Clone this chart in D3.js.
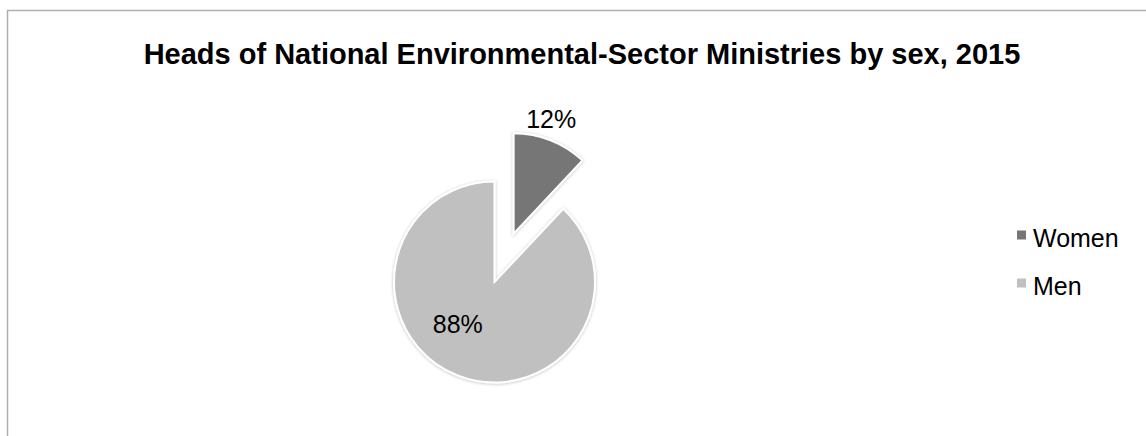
<!DOCTYPE html>
<html>
<head>
<meta charset="utf-8">
<script src="https://cdn.jsdelivr.net/npm/d3@7"></script>
<style>
  html, body { margin: 0; padding: 0; background: #fff; }
  svg { display: block; font-family: "Liberation Sans", Arial, Helvetica, sans-serif; }
</style>
</head>
<body>
<svg id="chart" width="1146" height="436"></svg>
<script>
// Heads of national environmental-sector ministries by sex, 2015
const categories = ["Women", "Men"];
const shares = [12, 88];
const sliceColors = ["#767676", "#c0c0c0"];
const titleText = "Heads of National Environmental-Sector Ministries by sex, 2015";

const W = 1146, H = 436;
const svg = d3.select("#chart");

// soft shadow under the slices
const defs = svg.append("defs");
const f = defs.append("filter").attr("id", "shadow")
  .attr("x", "-20%").attr("y", "-20%").attr("width", "140%").attr("height", "140%");
f.append("feDropShadow").attr("dx", 0).attr("dy", 0.5)
  .attr("stdDeviation", 1.6).attr("flood-color", "#000").attr("flood-opacity", 0.28);

// chart frame (only the top and left edges fall inside the view)
svg.append("rect")
  .attr("x", 7.5).attr("y", 10.5)
  .attr("width", W + 40).attr("height", H + 40)
  .attr("fill", "none").attr("stroke", "#b0b0b0").attr("stroke-width", 1.5);

// title
svg.append("text")
  .attr("x", 582).attr("y", 64)
  .attr("text-anchor", "middle")
  .attr("font-size", 29).attr("font-weight", "bold").attr("fill", "#000")
  .text(titleText);

// pie
const cx = 494.5, cy = 282, radius = 100.5, explode = 52;
const pie = d3.pie().sort(null).value(d => d);
const arcs = pie(shares);
const arc = d3.arc().innerRadius(0).outerRadius(radius);

const colorScale = d3.scaleOrdinal().domain(categories).range(sliceColors);

// the first slice is pulled out along its bisector
const explodeBy = [explode, 0];
// label placement around each slice's own centre: radius and angle nudge (degrees)
const labelPlace = [{ r: 121, nudge: -3.5 }, { r: 56, nudge: 19.4 }];

const g = svg.append("g").attr("transform", `translate(${cx},${cy})`);

const slices = g.selectAll("g.slice").data(arcs).join("g")
  .attr("class", "slice")
  .attr("transform", (d, i) => {
    const a = (d.startAngle + d.endAngle) / 2;
    const e = explodeBy[i];
    return `translate(${e * Math.sin(a)},${-e * Math.cos(a)})`;
  });

slices.append("path")
  .attr("d", arc)
  .attr("fill", (d, i) => colorScale(categories[i]))
  .attr("stroke", "#fff").attr("stroke-width", 2).attr("stroke-linejoin", "miter")
  .attr("filter", "url(#shadow)");

slices.append("text")
  .attr("x", (d, i) => {
    const a = (d.startAngle + d.endAngle) / 2 + labelPlace[i].nudge * Math.PI / 180;
    return labelPlace[i].r * Math.sin(a);
  })
  .attr("y", (d, i) => {
    const a = (d.startAngle + d.endAngle) / 2 + labelPlace[i].nudge * Math.PI / 180;
    return -labelPlace[i].r * Math.cos(a);
  })
  .attr("dy", "0.36em")
  .attr("text-anchor", "middle")
  .attr("font-size", 25).attr("fill", "#000")
  .text(d => d.data + "%");

// legend
const legend = svg.append("g").attr("transform", "translate(1017,247)");
const item = legend.selectAll("g").data(categories).join("g")
  .attr("transform", (d, i) => `translate(0,${i * 48})`);
item.append("rect")
  .attr("x", 0).attr("y", -16.5).attr("width", 9).attr("height", 9)
  .attr("fill", d => colorScale(d));
item.append("text")
  .attr("x", 16).attr("y", 0)
  .attr("font-size", 25).attr("fill", "#000")
  .text(d => d);
</script>
</body>
</html>
